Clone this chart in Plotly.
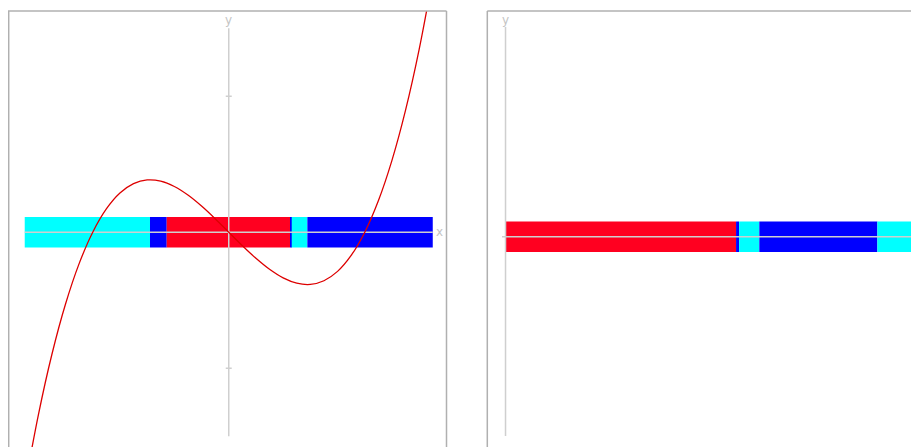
import plotly.graph_objects as go

W, H = 919, 447
OFF = 8  # the page body adds an 8px margin, so the figure is shifted by that
FW, FH = W - OFF, H - OFF

# left panel: the curve
curve_x = [-1.5, -1.4, -1.3, -1.2, -1.1, -1.0, -0.9, -0.8, -0.7, -0.6, -0.5, -0.4, -0.3, -0.2, -0.1, 0.0,
           0.1, 0.2, 0.3, 0.4, 0.5, 0.6, 0.7, 0.8, 0.9, 1.0, 1.1, 1.2, 1.3, 1.4, 1.5]
curve_y = [-1.875, -1.344, -0.897, -0.528, -0.231, 0.0, 0.171, 0.288, 0.357, 0.384, 0.375, 0.336, 0.273,
           0.192, 0.099, 0.0, -0.099, -0.192, -0.273, -0.336, -0.375, -0.384, -0.357, -0.288, -0.171, 0.0,
           0.231, 0.528, 0.897, 1.344, 1.875]

# colour bands along the x axis (interval edges + colours)
left_edges = [-1.5, -0.579, -0.456, 0.451, 0.463, 0.578, 1.5]
left_colors = ["#00ffff", "#0000ff", "#ff0020", "#0000ff", "#00ffff", "#0000ff"]
right_edges = [0.0, 1.695, 1.717, 1.866, 2.734, 2.99]
right_colors = ["#ff0020", "#0000ff", "#00ffff", "#0000ff", "#00ffff"]

left_yticks = [-1, 1]

AXIS_GREY = "#cfcfcf"
BORDER = "#b0b0b0"
BAND_H = 0.225


def pxx(x):
    return (x - OFF) / FW


def pxy(y):
    return 1 - (y - OFF) / FH


def band(edges, colors, xa, ya):
    return go.Bar(
        orientation="h",
        y=[0] * len(colors),
        base=edges[:-1],
        x=[b - a for a, b in zip(edges[:-1], edges[1:])],
        width=BAND_H,
        marker=dict(color=colors, line=dict(width=0)),
        xaxis=xa, yaxis=ya, showlegend=False, hoverinfo="skip",
    )


def axes_lines(x0, x1, y0, y1, xa, ya, ticks=()):
    xs = [x0, x1, None, 0, 0]
    ys = [0, 0, None, y0, y1]
    for t in ticks:
        xs += [None, -0.022, 0.022]
        ys += [None, t, t]
    return go.Scatter(x=xs, y=ys, mode="lines", line=dict(color=AXIS_GREY, width=1.5),
                      xaxis=xa, yaxis=ya, showlegend=False, hoverinfo="skip")


fig = go.Figure()
fig.add_trace(band(left_edges, left_colors, "x", "y"))
fig.add_trace(band(right_edges, right_colors, "x2", "y2"))
fig.add_trace(axes_lines(-1.5, 1.5, -1.5, 1.5, "x", "y", left_yticks))
fig.add_trace(axes_lines(-0.026, 3.0, -1.465, 1.542, "x2", "y2"))
fig.add_trace(go.Scatter(x=curve_x, y=curve_y, mode="lines", line=dict(color="#dd0000", width=1.3, shape="spline"),
                         xaxis="x", yaxis="y", showlegend=False, hoverinfo="skip"))

hidden = dict(visible=False, showgrid=False, zeroline=False)
top = pxy(11)
fig.update_layout(
    width=FW, height=FH,
    margin=dict(l=0, r=0, t=0, b=0),
    paper_bgcolor="white", plot_bgcolor="white",
    barmode="overlay",
    xaxis=dict(domain=[pxx(8), pxx(446.5)], range=[-1.623, 1.601], **hidden),
    yaxis=dict(domain=[0, top], range=[-1.579, 1.626], **hidden),
    xaxis2=dict(domain=[pxx(487.3), 1], range=[-0.134, 3.040], anchor="y2", **hidden),
    yaxis2=dict(domain=[0, top], range=[-1.546, 1.66], anchor="x2", **hidden),
)

lab = dict(showarrow=False, font=dict(family="DejaVu Sans", size=12, color="#c4c4c4"))
fig.add_annotation(x=1.546, y=0, xref="x", yref="y", text="x", **lab)
fig.add_annotation(x=0, y=1.56, xref="x", yref="y", text="y", **lab)
fig.add_annotation(x=3.06, y=0, xref="x2", yref="y2", text="x", **lab)
fig.add_annotation(x=0, y=1.593, xref="x2", yref="y2", text="y", **lab)

# panel borders (bottom edges and the 2nd panel's right edge fall outside the window)
bl = dict(color=BORDER, width=1.5)
for x0, x1, y0, y1 in [(8.7, 8.7, 11, H + 2), (8, 446.5, 11, 11), (446.5, 446.5, 11, H + 2),
                       (487.3, 487.3, 11, H + 2), (487.3, W + 5, 11, 11)]:
    fig.add_shape(type="line", xref="paper", yref="paper",
                  x0=pxx(x0), x1=pxx(x1), y0=pxy(y0), y1=pxy(y1), line=bl)

fig.write_html("out.html", config={"displayModeBar": False})
